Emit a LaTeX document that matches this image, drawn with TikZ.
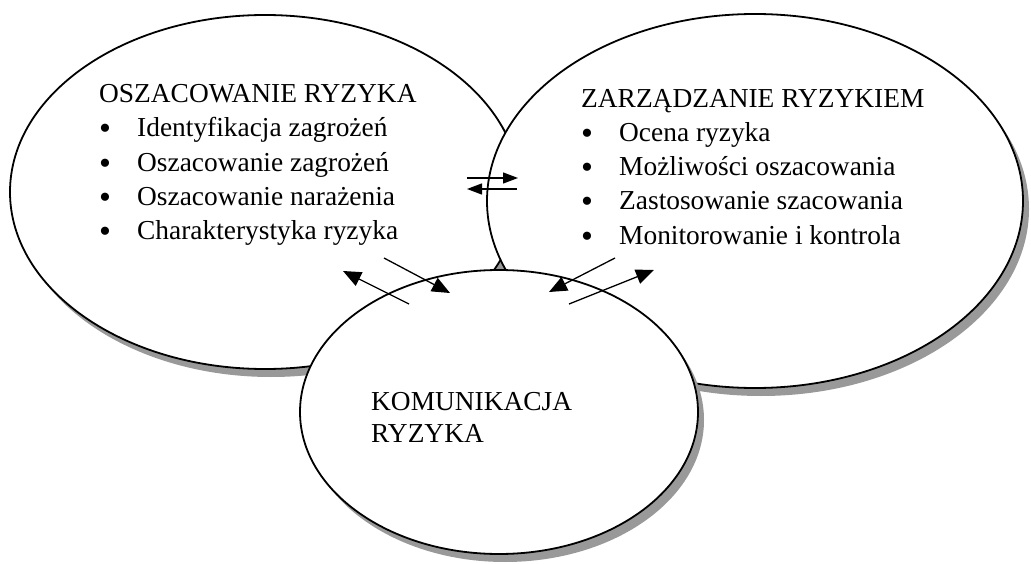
\documentclass[tikz,border=0pt]{standalone}
\usepackage{fontspec}
\setmainfont{Liberation Serif}
\usetikzlibrary{arrows.meta,shapes.geometric}

\tikzset{
  oval/.style={ellipse, draw, line width=1.8pt, fill=white, inner sep=0pt},
  cien/.style={ellipse, fill=black!40, draw=none, inner sep=0pt},
  opis/.style={anchor=base west, inner sep=0pt, align=left, font=\fontsize{27.4}{34.3}\selectfont},
  strzalka/.style={line width=1.3pt, -{Triangle[length=18pt,width=15pt]}},
  wymiana/.style={line width=1.3pt, -{Triangle[length=15pt,width=11pt]}},
}
\newcommand{\pkt}{\makebox[38pt][l]{\raisebox{-3pt}{\fontsize{34}{34}\selectfont\textbullet}}}

\begin{document}
\begin{tikzpicture}[x=1pt, y=-1pt]
  \useasboundingbox (0,0) rectangle (1031,564);
  % ellipses with shadows
  \node[cien, minimum width=510pt, minimum height=354pt] (oszcien) at (271,200) {};
  \node[oval, minimum width=510pt, minimum height=354pt] (osz) at (265,192) {};
  \node[cien, minimum width=536pt, minimum height=374pt] (zarcien) at (761,209) {};
  \node[oval, minimum width=536pt, minimum height=374pt] (zar) at (755,201) {};
  \node[cien, minimum width=398pt, minimum height=284pt] (komcien) at (505,420) {};
  \node[oval, minimum width=398pt, minimum height=284pt] (kom) at (499,412) {};

  % texts (anchored at the baseline of the last line)
  \node[opis] (osztxt) at (99,239.7) {OSZACOWANIE RYZYKA\\
    \pkt Identyfikacja zagrożeń\\
    \pkt Oszacowanie zagrożeń\\
    \pkt Oszacowanie narażenia\\
    \pkt Charakterystyka ryzyka};
  \node[opis] (zartxt) at (581,244.2) {ZARZĄDZANIE RYZYKIEM\\
    \pkt Ocena ryzyka\\
    \pkt Możliwości oszacowania\\
    \pkt Zastosowanie szacowania\\
    \pkt Monitorowanie i kontrola};
  \node[opis, font=\fontsize{27.4}{32}\selectfont] (komtxt) at (371,442) {KOMUNIKACJA\\RYZYKA};

  % arrow ends
  \coordinate (w1a) at (467,178);
  \coordinate (w1b) at (518,178);
  \coordinate (w2a) at (517,189);
  \coordinate (w2b) at (467,189);
  \coordinate (la1) at (409,304);
  \coordinate (la2) at (343,271);
  \coordinate (lb1) at (384,258);
  \coordinate (lb2) at (450,293);
  \coordinate (pa1) at (615,258);
  \coordinate (pa2) at (549,292);
  \coordinate (pb1) at (569,304);
  \coordinate (pb2) at (654,270);

  % arrows
  \draw[wymiana] (w1a) -- (w1b);
  \draw[wymiana] (w2a) -- (w2b);
  \draw[strzalka] (la1) -- (la2);
  \draw[strzalka] (lb1) -- (lb2);
  \draw[strzalka] (pa1) -- (pa2);
  \draw[strzalka] (pb1) -- (pb2);
\end{tikzpicture}
\end{document}
